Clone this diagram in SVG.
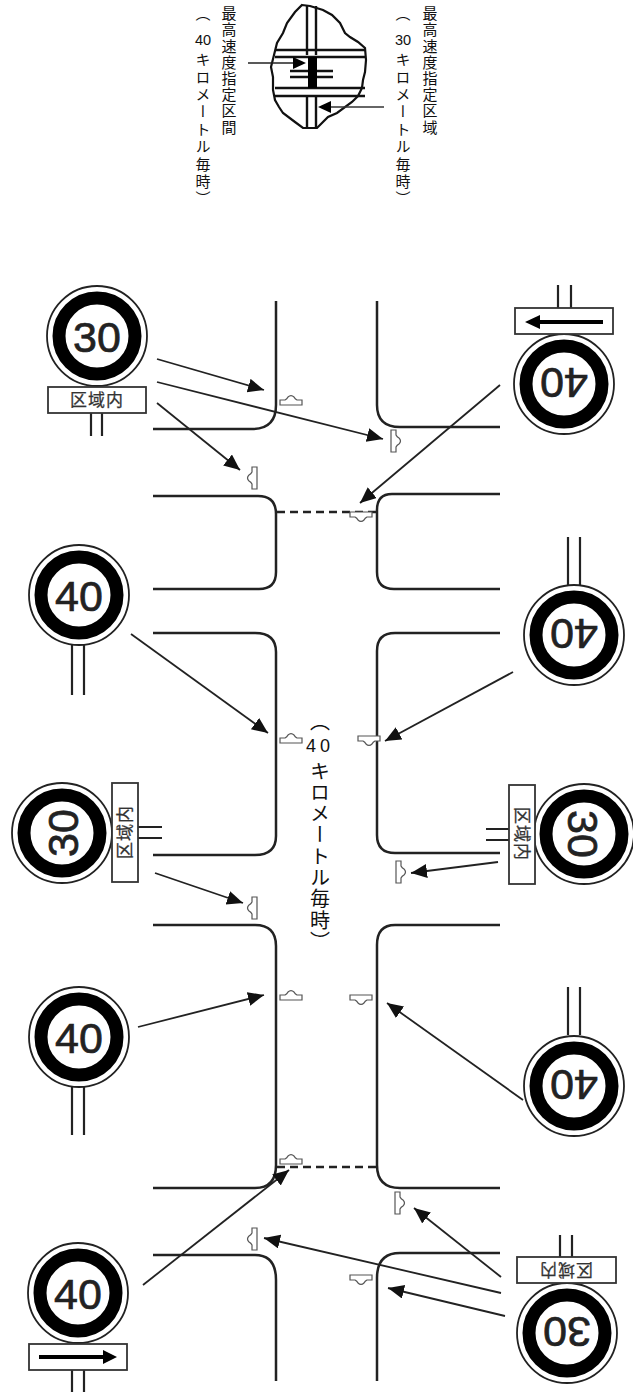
<svg xmlns="http://www.w3.org/2000/svg" width="633" height="1394" viewBox="0 0 633 1394">
<style>
.road{fill:none;stroke:#222;stroke-width:2.5}
.dash{fill:none;stroke:#222;stroke-width:2.4;stroke-dasharray:8 5}
.arr{fill:none;stroke:#222;stroke-width:1.8;marker-end:url(#ah)}
.post{fill:none;stroke:#222;stroke-width:2.2}
.plate{fill:#fff;stroke:#333;stroke-width:1.8}
.num{font-family:"Liberation Sans",Arial,sans-serif;font-size:43px;text-anchor:middle;fill:#222;stroke:#222;stroke-width:.7}
.zone{font-family:"Noto Sans CJK JP",sans-serif;font-size:17px;letter-spacing:1px;text-anchor:middle;fill:#333;stroke:#333;stroke-width:.25}
.vt{font-family:"Noto Sans CJK JP",sans-serif;writing-mode:vertical-rl;fill:#111}
.small{font-size:15px;letter-spacing:1.2px}
.small2{font-size:15px;letter-spacing:2.4px}
.big{font-size:20px;letter-spacing:1.3px}
.hn{font-family:"Liberation Sans",Arial,sans-serif;fill:#111;text-anchor:middle}
.mark{fill:#fff;stroke:#555;stroke-width:1.2}
.map{fill:none;stroke:#111;stroke-width:2.4}
</style>
<defs>
<marker id="ah" markerUnits="userSpaceOnUse" markerWidth="18" markerHeight="16" refX="16" refY="7" orient="auto"><path d="M0 0L16 7L0 14Z" fill="#111"/></marker>
<g id="disc"><circle r="50" fill="#fff" stroke="#222" stroke-width="1.8"/><circle r="38" fill="#fff" stroke="#000" stroke-width="13"/></g>
<path id="hump" class="mark" d="M-11 5V0H-6Q-4-1-3-3Q0-6 3-3Q4-1 6 0H11V5Z"/>
</defs>

<g id="inset-map">
<path d="M302 5L310 6L323 10L332 15L340 23L345 33L350 37L358 42L365 48L366 60L365 72L363 80L362 88L358 96L352 102L337 113L328 117L317 128L303 128L295 122L283 113L279 107L275 100L273 90L273 77L271 67L274 55L277 43L283 33L287 23L295 12Z" fill="#fff" stroke="#111" stroke-width="2.2"/>
<path class="map" d="M307 6V55M316 6V55M275 50H365M275 57H365M275 88H365M275 96H365M307 96V128M316 96V128M290 71H333M290 77H333"/>
<rect x="308" y="57" width="9" height="31" fill="#000"/>
<path d="M248 63H293" fill="none" stroke="#222" stroke-width="1.6"/><path d="M306 63L293 57V69Z" fill="#000"/>
<path d="M384 107H331" fill="none" stroke="#333" stroke-width="1.6"/><path d="M318 107L331 101V113Z" fill="#000"/>
</g>
<g id="inset-label-40">
<text class="vt small" x="229" y="6">最高速度指定区間</text>
<text class="vt small2" x="203" y="6">（</text>
<text class="hn" x="203" y="45" font-size="14.5">40</text>
<text class="vt small2" x="203" y="52">キロメートル毎時）</text>
</g>
<g id="inset-label-30">
<text class="vt small" x="430" y="6">最高速度指定区域</text>
<text class="vt small2" x="403" y="6">（</text>
<text class="hn" x="403" y="45" font-size="14.5">30</text>
<text class="vt small2" x="403" y="52">キロメートル毎時）</text>
</g>

<g id="roads">
<path class="road" d="M276 301V405Q276 429 252 429H153"/>
<path class="road" d="M153 496H258Q276 496 276 514V572Q276 589 259 589H153"/>
<path class="road" d="M153 633H255Q276 633 276 652V836Q276 855 255 855H153"/>
<path class="road" d="M153 925H255Q276 925 276 946V1165Q276 1188 255 1188H153"/>
<path class="road" d="M153 1255H255Q276 1255 276 1280V1381"/>
<path class="road" d="M377 301V405Q377 427 400 427H500"/>
<path class="road" d="M500 494H392Q377 494 377 510V572Q377 589 394 589H500"/>
<path class="road" d="M500 633H395Q377 633 377 651V835Q377 853 395 853H500"/>
<path class="road" d="M500 925H395Q377 925 377 945V1165Q377 1188 400 1188H500"/>
<path class="road" d="M500 1253H400Q377 1253 377 1278V1381"/>
<path class="dash" d="M277 512H377"/>
<path class="dash" d="M277 1167H377"/>
</g>

<g id="road-marks">
<use href="#hump" x="291" y="400"/>
<use href="#hump" transform="translate(361 517) rotate(180)"/>
<use href="#hump" x="291" y="738"/>
<use href="#hump" transform="translate(369 741) rotate(180)"/>
<use href="#hump" x="291" y="995"/>
<use href="#hump" transform="translate(361 1000) rotate(180)"/>
<use href="#hump" x="291" y="1159"/>
<use href="#hump" transform="translate(361 1280) rotate(180)"/>
<use href="#hump" transform="translate(252 478) rotate(-90)"/>
<use href="#hump" transform="translate(252 908) rotate(-90)"/>
<use href="#hump" transform="translate(252 1239) rotate(-90)"/>
<use href="#hump" transform="translate(396 441) rotate(90)"/>
<use href="#hump" transform="translate(401 872) rotate(90)"/>
<use href="#hump" transform="translate(400 1203) rotate(90)"/>
</g>

<g id="center-label">
<text class="vt big" x="320" y="711">（</text>
<text class="hn" x="320" y="752" font-size="18" letter-spacing="4">40</text>
<text class="vt big" x="320" y="761">キロメートル毎時）</text>
</g>

<g id="connectors">
<path class="arr" d="M157 359L264 390"/>
<path class="arr" d="M157 382L383 439"/>
<path class="arr" d="M157 403L240 470"/>
<path class="arr" d="M500 385L360 503"/>
<path class="arr" d="M131 634L268 733"/>
<path class="arr" d="M513 672L385 741"/>
<path class="arr" d="M155 873L243 903"/>
<path class="arr" d="M498 862L411 873"/>
<path class="arr" d="M138 1027L264 995"/>
<path class="arr" d="M523 1100L387 1003"/>
<path class="arr" d="M143 1285L289 1170"/>
<path class="arr" d="M501 1277L414 1208"/>
<path class="arr" d="M501 1293L264 1238"/>
<path class="arr" d="M505 1316L388 1288"/>
</g>

<g id="sign-30-top-left">
<path class="post" d="M91 413V436M102 413V436"/>
<use href="#disc" x="97" y="336"/><text class="num" x="97" y="352">30</text>
<rect class="plate" x="48" y="387" width="98" height="26"/><text class="zone" x="97" y="406">区域内</text>
</g>
<g id="sign-40-top-right">
<path class="post" d="M558 285V308M571 285V308"/>
<use href="#disc" x="564" y="384"/><text class="num" transform="rotate(180 564 384)" x="564" y="400">40</text>
<rect class="plate" x="515" y="308" width="98" height="26"/>
<path d="M603 322H535" stroke="#000" stroke-width="4"/><path d="M525 322L540 315V329Z" fill="#000"/>
</g>
<g id="sign-40-left-1">
<path class="post" d="M72 645V695M84 645V695"/>
<use href="#disc" x="79" y="595"/><text class="num" x="79" y="611">40</text>
</g>
<g id="sign-40-right-1">
<path class="post" d="M568 537V585M580 537V585"/>
<use href="#disc" x="574" y="635"/><text class="num" transform="rotate(180 574 635)" x="574" y="651">40</text>
</g>
<g id="sign-30-left">
<path class="post" d="M138 827H162M138 838H162"/>
<use href="#disc" x="62" y="833"/><text class="num" transform="rotate(-90 62 833)" x="62" y="849">30</text>
<rect class="plate" x="112" y="783" width="26" height="99"/><text class="zone" transform="rotate(-90 125 832)" x="125" y="838">区域内</text>
</g>
<g id="sign-30-right">
<path class="post" d="M486 829H509M486 840H509"/>
<use href="#disc" x="584" y="834"/><text class="num" transform="rotate(90 584 834)" x="584" y="850">30</text>
<rect class="plate" x="509" y="785" width="26" height="99"/><text class="zone" transform="rotate(90 522 834)" x="522" y="840">区域内</text>
</g>
<g id="sign-40-left-2">
<path class="post" d="M72 1087V1135M84 1087V1135"/>
<use href="#disc" x="79" y="1037"/><text class="num" x="79" y="1053">40</text>
</g>
<g id="sign-40-right-2">
<path class="post" d="M568 987V1035M580 987V1035"/>
<use href="#disc" x="574" y="1086"/><text class="num" transform="rotate(180 574 1086)" x="574" y="1102">40</text>
</g>
<g id="sign-40-bottom-left">
<path class="post" d="M72 1370V1392M84 1370V1392"/>
<use href="#disc" x="78" y="1293"/><text class="num" x="78" y="1309">40</text>
<rect class="plate" x="29" y="1344" width="98" height="26"/>
<path d="M39 1357H108" stroke="#000" stroke-width="4"/><path d="M117 1357L103 1350V1364Z" fill="#000"/>
</g>
<g id="sign-30-bottom-right">
<path class="post" d="M560 1235V1257M572 1235V1257"/>
<use href="#disc" x="567" y="1333"/><text class="num" transform="rotate(180 567 1333)" x="567" y="1349">30</text>
<rect class="plate" x="517" y="1257" width="99" height="26"/><text class="zone" transform="rotate(180 566 1270)" x="566" y="1276">区域内</text>
</g>
</svg>
